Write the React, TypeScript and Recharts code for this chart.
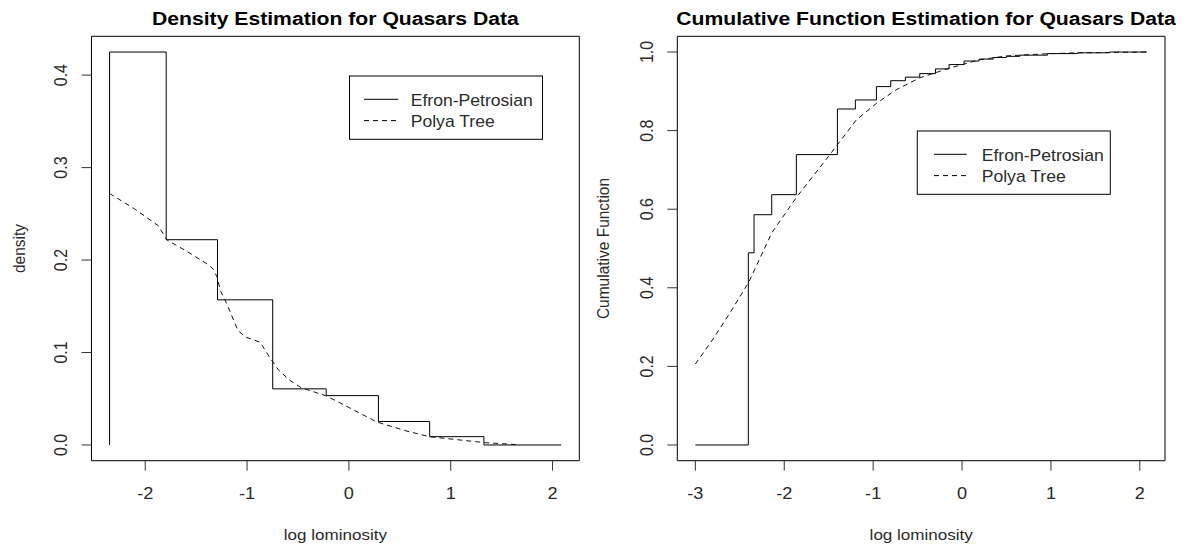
import React from "react";
import { LineChart, Line, XAxis, YAxis, ReferenceArea } from "recharts";

// Efron-Petrosian density estimate: histogram bin edges and bar heights
const densityEdges = [-2.35, -1.794, -1.29, -0.748, -0.223, 0.29, 0.793, 1.326, 2.085];
const densityHeights = [0.425, 0.222, 0.157, 0.0607, 0.0534, 0.0254, 0.009, 0];

// Polya tree density estimate
const polyaDensityX = [-2.35, -2.1, -1.87, -1.79, -1.6, -1.394, -1.33, -1.294, -1.262, -1.2, -1.09, -1.02, -0.87, -0.78, -0.69, -0.58, -0.47, -0.22, 0.01, 0.27, 0.57, 0.79, 1.04, 1.34, 1.64];
const polyaDensityY = [0.272, 0.255, 0.237, 0.222, 0.21, 0.196, 0.19, 0.1815, 0.167, 0.153, 0.124, 0.117, 0.111, 0.095, 0.081, 0.07, 0.062, 0.053, 0.04, 0.025, 0.015, 0.009, 0.006, 0.0025, 0.0005];

// Efron-Petrosian cumulative function: jump locations and levels
const cumJumpX = [-3, -2.404, -2.34, -2.141, -1.864, -1.402, -1.2, -0.963, -0.802, -0.637, -0.476, -0.299, -0.146, 0.023, 0.191, 0.35, 0.5, 0.65, 0.96, 1.3, 1.66, 2.08];
const cumJumpY = [0, 0.489, 0.586, 0.637, 0.739, 0.855, 0.878, 0.912, 0.927, 0.936, 0.945, 0.957, 0.968, 0.977, 0.982, 0.986, 0.989, 0.992, 0.996, 0.998, 1.0, 1.0];

// Polya tree cumulative function
const polyaCumX = [-3, -2.8, -2.6, -2.4, -2.14, -1.86, -1.49, -1.19, -0.96, -0.74, -0.48, -0.14, 0.19, 0.5, 0.9, 1.3, 1.7, 2.08];
const polyaCumY = [0.206, 0.27, 0.34, 0.414, 0.54, 0.631, 0.738, 0.827, 0.87, 0.904, 0.934, 0.959, 0.98, 0.99, 0.995, 0.998, 0.999, 1.0];

const densityTicksX = [-2, -1, 0, 1, 2];
const densityTicksY = [0, 0.1, 0.2, 0.3, 0.4];
const cumTicksX = [-3, -2, -1, 0, 1, 2];
const cumTicksY = [0, 0.2, 0.4, 0.6, 0.8, 1.0];

const FONT = "'Liberation Sans', Arial, sans-serif";
const INK = "#2b2b2b";
const STRETCH = 1.1;

type Pt = { x: number; y: number };

const zip = (xs: number[], ys: number[]): Pt[] => xs.map((x, i) => ({ x, y: ys[i] }));

// R-style axis range: data range widened by 4% on each side
const padRange = (vals: number[]): [number, number] => {
  const lo = Math.min(...vals);
  const hi = Math.max(...vals);
  const d = (hi - lo) * 0.04;
  return [lo - d, hi + d];
};

const densitySteps: Pt[] = [
  { x: densityEdges[0], y: 0 },
  ...densityHeights.map((h, i) => ({ x: densityEdges[i], y: h })),
  { x: densityEdges[densityEdges.length - 1], y: 0 },
];
const polyaDensity = zip(polyaDensityX, polyaDensityY);
const cumSteps = zip(cumJumpX, cumJumpY);
const polyaCum = zip(polyaCumX, polyaCumY);

const XTick = (props: any) => {
  const { x, y, payload } = props;
  return (
    <text
      transform={`translate(${x},${y + 28.6}) scale(${STRETCH},1)`}
      textAnchor="middle"
      fontSize={16.5}
      fontFamily={FONT}
      fill={INK}
    >
      {payload.value}
    </text>
  );
};

const YTick = (props: any) => {
  const { x, y, payload } = props;
  return (
    <text
      transform={`translate(${x - 14.8},${y}) scale(${STRETCH},1) rotate(-90)`}
      textAnchor="middle"
      fontSize={16}
      fontFamily={FONT}
      fill={INK}
    >
      {Number(payload.value).toFixed(1)}
    </text>
  );
};

interface PanelProps {
  steps: Pt[];
  smooth: Pt[];
  xTicks: number[];
  yTicks: number[];
  yData: number[];
  margin: { top: number; right: number; bottom: number; left: number };
}

function Panel({ steps, smooth, xTicks, yTicks, yData, margin }: PanelProps) {
  const xDomain = padRange([...steps.map((p) => p.x), ...smooth.map((p) => p.x)]);
  const yDomain = padRange(yData);
  return (
    <LineChart width={591} height={548} margin={margin}>
      <XAxis
        type="number"
        dataKey="x"
        domain={xDomain}
        ticks={xTicks}
        interval={0}
        allowDataOverflow
        axisLine={false}
        tickSize={10}
        tickMargin={0}
        tickLine={{ stroke: "#333" }}
        tick={<XTick />}
        height={30}
      />
      <YAxis
        type="number"
        dataKey="y"
        domain={yDomain}
        ticks={yTicks}
        interval={0}
        allowDataOverflow
        axisLine={false}
        tickSize={10}
        tickMargin={0}
        tickLine={{ stroke: "#333" }}
        tick={<YTick />}
        width={30}
      />
      <ReferenceArea
        x1={xDomain[0]}
        x2={xDomain[1]}
        y1={yDomain[0]}
        y2={yDomain[1]}
        fill="none"
        stroke="#000"
        strokeWidth={1}
        ifOverflow="visible"
      />
      <Line
        data={steps}
        dataKey="y"
        type="stepAfter"
        stroke="#000"
        strokeWidth={1}
        dot={false}
        activeDot={false}
        isAnimationActive={false}
      />
      <Line
        data={smooth}
        dataKey="y"
        type="linear"
        stroke="#111"
        strokeWidth={1}
        strokeDasharray="5 4"
        dot={false}
        activeDot={false}
        isAnimationActive={false}
      />
    </LineChart>
  );
}

function LegendBox({ x, y, lineX1, lineX2, textX }: { x: number; y: number; lineX1: number; lineX2: number; textX: number }) {
  const rows = [
    { label: "Efron-Petrosian", dash: undefined },
    { label: "Polya Tree", dash: "5 4" },
  ];
  return (
    <g>
      <rect x={x} y={y} width={193} height={63.3} fill="#fff" stroke="#000" strokeWidth={1} />
      {rows.map((r, i) => {
        const ly = y + 23.3 + i * 21.3;
        return (
          <g key={r.label}>
            <line x1={lineX1} x2={lineX2} y1={ly} y2={ly} stroke="#000" strokeWidth={1} strokeDasharray={r.dash} />
            <text
              transform={`translate(${textX},${ly + 6.4}) scale(${STRETCH},1)`}
              fontSize={16}
              fontFamily={FONT}
              fill={INK}
            >
              {r.label}
            </text>
          </g>
        );
      })}
    </g>
  );
}

function Caption({ x, y, text, bold, rotate, size }: { x: number; y: number; text: string; bold?: boolean; rotate?: boolean; size: number }) {
  const s = bold ? 1.21 : STRETCH;
  return (
    <text
      transform={`translate(${x},${y}) scale(${s},1)${rotate ? " rotate(-90)" : ""}`}
      textAnchor="middle"
      fontSize={size}
      fontWeight={bold ? "bold" : "normal"}
      fontFamily={FONT}
      fill={bold ? "#000" : INK}
    >
      {text}
    </text>
  );
}

export default function App() {
  return (
    <div style={{ position: "absolute", left: 0, top: 0, width: 1182, height: 548, background: "#fff" }}>
      <div style={{ position: "absolute", left: 0, top: 0 }}>
        <Panel
          steps={densitySteps}
          smooth={polyaDensity}
          xTicks={densityTicksX}
          yTicks={densityTicksY}
          yData={[0, ...densityHeights]}
          margin={{ top: 36.3, right: 11.7, bottom: 57.3, left: 61.5 }}
        />
      </div>
      <div style={{ position: "absolute", left: 591, top: 0 }}>
        <Panel
          steps={cumSteps}
          smooth={polyaCum}
          xTicks={cumTicksX}
          yTicks={cumTicksY}
          yData={[0, ...cumJumpY]}
          margin={{ top: 36.3, right: 17, bottom: 57.3, left: 56.3 }}
        />
      </div>
      <svg width={1182} height={548} style={{ position: "absolute", left: 0, top: 0, pointerEvents: "none" }}>
        <Caption x={335.4} y={25} text="Density Estimation for Quasars Data" bold size={17.5} />
        <Caption x={926} y={25} text="Cumulative Function Estimation for Quasars Data" bold size={17.5} />
        <Caption x={335.4} y={540} text="log lominosity" size={15.5} />
        <Caption x={921.2} y={540} text="log lominosity" size={15.5} />
        <Caption x={24.7} y={248.5} text="density" rotate size={15.5} />
        <Caption x={608.8} y={248.5} text="Cumulative Function" rotate size={15.5} />
        <LegendBox x={349.5} y={76} lineX1={364} lineX2={398.3} textX={410.7} />
        <LegendBox x={917.3} y={131} lineX1={934} lineX2={966.7} textX={981.7} />
      </svg>
    </div>
  );
}
